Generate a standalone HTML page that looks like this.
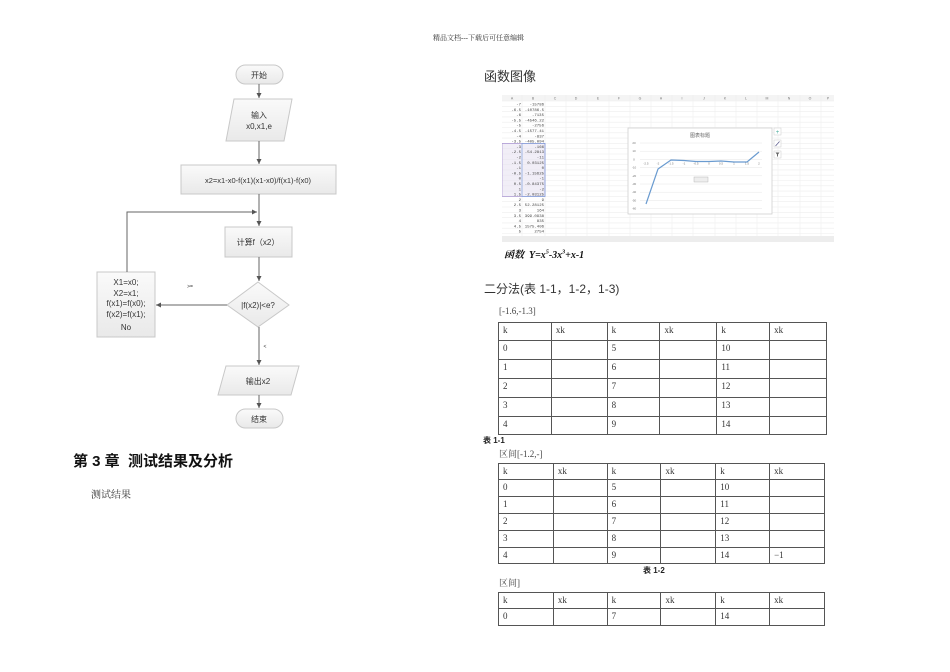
<!DOCTYPE html>
<html><head><meta charset="utf-8">
<style>
html,body{margin:0;padding:0;background:#fff;}
body{width:950px;height:672px;position:relative;overflow:hidden;font-family:"Liberation Sans","Noto Sans CJK SC",sans-serif;}
.a{position:absolute;white-space:nowrap;}
.serif{font-family:"Liberation Serif","Noto Serif CJK SC",serif;}
table{position:absolute;border-collapse:collapse;font-family:"Liberation Serif","Noto Serif CJK SC",serif;font-size:9px;color:#333;}
td{border:1px solid #555;padding:0 0 0 4px;vertical-align:top;line-height:14px;}
</style></head><body>

<div class="a serif" style="left:433px;top:33px;font-size:7px;color:#333;">精品文档---下载后可任意编辑</div>

<svg class="a" style="left:0;top:0" width="470" height="440" viewBox="0 0 470 440">
<defs>
<marker id="ar" markerWidth="6" markerHeight="6" refX="5" refY="3" orient="auto"><path d="M0,0.5 L5,3 L0,5.5z" fill="#555"/></marker>
<linearGradient id="g" x1="0" y1="0" x2="0" y2="1"><stop offset="0" stop-color="#fafafa"/><stop offset="1" stop-color="#e9e9e9"/></linearGradient>
</defs>
<g stroke="#c8c8c8" stroke-width="1" fill="url(#g)">
<rect x="236" y="65" width="47" height="19" rx="9.5"/>
<polygon points="234,99 292,99 284,141 226,141"/>
<rect x="181" y="165" width="155" height="29"/>
<rect x="225" y="227" width="67" height="30"/>
<polygon points="258,282 289,305 258,327 227,305"/>
<rect x="97" y="272" width="58" height="65"/>
<polygon points="226,366 299,366 291,395 218,395"/>
<rect x="236" y="409" width="47" height="19" rx="9.5"/>
</g>
<g stroke="#666" stroke-width="1" fill="none" marker-end="url(#ar)">
<line x1="259" y1="84" x2="259" y2="98"/>
<line x1="259" y1="141" x2="259" y2="164"/>
<line x1="259" y1="194" x2="259" y2="226"/>
<polyline points="127,272 127,212 257,212"/>
<line x1="259" y1="257" x2="259" y2="281"/>
<line x1="227" y1="305" x2="156" y2="305"/>
<line x1="259" y1="327" x2="259" y2="365"/>
<line x1="259" y1="395" x2="259" y2="408"/>
</g>
<g font-family="Liberation Sans,Noto Sans CJK SC,sans-serif" font-size="8" fill="#333" text-anchor="middle">
<text x="259" y="78">开始</text>
<text x="259" y="118">输入</text>
<text x="259" y="129">x0,x1,e</text>
<text x="258" y="183" font-size="7.5">x2=x1-x0-f(x1)(x1-x0)/f(x1)-f(x0)</text>
<text x="258" y="245">计算f（x2）</text>
<text x="258" y="308">|f(x2)|&lt;e?</text>
<text x="126" y="285">X1=x0;</text>
<text x="126" y="296">X2=x1;</text>
<text x="126" y="306">f(x1)=f(x0);</text>
<text x="126" y="317">f(x2)=f(x1);</text>
<text x="126" y="330">No</text>
<text x="258" y="384">输出x2</text>
<text x="259" y="422">结束</text>
<text x="190" y="288" font-size="5">&gt;=</text>
<text x="265" y="348" font-size="5">&lt;</text>
</g>
</svg>

<div class="a" style="left:73px;top:450px;font-size:15px;font-weight:bold;color:#111;">第 3 章&nbsp; 测试结果及分析</div>
<div class="a serif" style="left:91px;top:486px;font-size:10px;color:#333;">测试结果</div>

<div class="a" style="left:484px;top:66px;font-size:13px;color:#333;">函数图像</div>

<svg class="a" style="left:502px;top:95px" width="332" height="147" viewBox="0 0 332 147">
<rect x="0" y="0" width="332" height="147" fill="#fff"/>
<rect x="0" y="0" width="332" height="6" fill="#f4f4f4"/>
<rect x="0" y="141" width="332" height="6" fill="#ededed"/>
<g font-family="Liberation Sans,sans-serif" font-size="3.5" fill="#777" text-anchor="middle">
<text x="10" y="4.5">A</text><text x="31" y="4.5">B</text><text x="53" y="4.5">C</text><text x="74" y="4.5">D</text><text x="96" y="4.5">E</text><text x="117" y="4.5">F</text><text x="138" y="4.5">G</text><text x="159" y="4.5">H</text><text x="180" y="4.5">I</text><text x="202" y="4.5">J</text><text x="223" y="4.5">K</text><text x="244" y="4.5">L</text><text x="265" y="4.5">M</text><text x="287" y="4.5">N</text><text x="308" y="4.5">O</text><text x="326" y="4.5">P</text>
</g>
<g stroke="#eeeeee" stroke-width="0.6">
<line x1="20" y1="0" x2="20" y2="141"/><line x1="43" y1="0" x2="43" y2="141"/>
<line x1="64" y1="0" x2="64" y2="141"/><line x1="85" y1="0" x2="85" y2="141"/><line x1="107" y1="0" x2="107" y2="141"/><line x1="128" y1="0" x2="128" y2="141"/><line x1="149" y1="0" x2="149" y2="141"/><line x1="170" y1="0" x2="170" y2="141"/><line x1="191" y1="0" x2="191" y2="141"/><line x1="213" y1="0" x2="213" y2="141"/><line x1="234" y1="0" x2="234" y2="141"/><line x1="255" y1="0" x2="255" y2="141"/><line x1="276" y1="0" x2="276" y2="141"/><line x1="298" y1="0" x2="298" y2="141"/><line x1="319" y1="0" x2="319" y2="141"/>
<line x1="0" y1="6" x2="332" y2="6"/><line x1="0" y1="11.3" x2="332" y2="11.3"/><line x1="0" y1="16.6" x2="332" y2="16.6"/><line x1="0" y1="21.9" x2="332" y2="21.9"/><line x1="0" y1="27.2" x2="332" y2="27.2"/><line x1="0" y1="32.5" x2="332" y2="32.5"/><line x1="0" y1="37.8" x2="332" y2="37.8"/><line x1="0" y1="43.1" x2="332" y2="43.1"/><line x1="0" y1="48.4" x2="332" y2="48.4"/><line x1="0" y1="53.7" x2="332" y2="53.7"/><line x1="0" y1="59" x2="332" y2="59"/><line x1="0" y1="64.3" x2="332" y2="64.3"/><line x1="0" y1="69.6" x2="332" y2="69.6"/><line x1="0" y1="74.9" x2="332" y2="74.9"/><line x1="0" y1="80.2" x2="332" y2="80.2"/><line x1="0" y1="85.5" x2="332" y2="85.5"/><line x1="0" y1="90.8" x2="332" y2="90.8"/><line x1="0" y1="96.1" x2="332" y2="96.1"/><line x1="0" y1="101.4" x2="332" y2="101.4"/><line x1="0" y1="106.7" x2="332" y2="106.7"/><line x1="0" y1="112" x2="332" y2="112"/><line x1="0" y1="117.3" x2="332" y2="117.3"/><line x1="0" y1="122.6" x2="332" y2="122.6"/><line x1="0" y1="127.9" x2="332" y2="127.9"/><line x1="0" y1="133.2" x2="332" y2="133.2"/><line x1="0" y1="138.5" x2="332" y2="138.5"/>
</g>
<rect x="0" y="48.4" width="43" height="53" fill="#e8e2f2" fill-opacity="0.6" stroke="#a58fcf" stroke-width="0.7"/>
<rect x="20" y="48.4" width="23" height="53" fill="none" stroke="#7f9fdc" stroke-width="0.7"/>
<g font-family="Liberation Mono,monospace" font-size="4" fill="#444" text-anchor="end">
<text x="19" y="10.5">-7</text><text x="42" y="10.5">-15786</text>
<text x="19" y="15.8">-6.5</text><text x="42" y="15.8">-10786.5</text>
<text x="19" y="21.1">-6</text><text x="42" y="21.1">-7135</text>
<text x="19" y="26.4">-5.5</text><text x="42" y="26.4">-4546.22</text>
<text x="19" y="31.7">-5</text><text x="42" y="31.7">-2756</text>
<text x="19" y="37">-4.5</text><text x="42" y="37">-1577.41</text>
<text x="19" y="42.3">-4</text><text x="42" y="42.3">-837</text>
<text x="19" y="47.6">-3.5</text><text x="42" y="47.6">-405.094</text>
<text x="19" y="52.9">-3</text><text x="42" y="52.9">-166</text>
<text x="19" y="58.2">-2.5</text><text x="42" y="58.2">-54.2813</text>
<text x="19" y="63.5">-2</text><text x="42" y="63.5">-11</text>
<text x="19" y="68.8">-1.5</text><text x="42" y="68.8">0.03125</text>
<text x="19" y="74.1">-1</text><text x="42" y="74.1">0</text>
<text x="19" y="79.4">-0.5</text><text x="42" y="79.4">-1.15625</text>
<text x="19" y="84.7">0</text><text x="42" y="84.7">-1</text>
<text x="19" y="90">0.5</text><text x="42" y="90">-0.84375</text>
<text x="19" y="95.3">1</text><text x="42" y="95.3">-2</text>
<text x="19" y="100.6">1.5</text><text x="42" y="100.6">-2.03125</text>
<text x="19" y="105.9">2</text><text x="42" y="105.9">9</text>
<text x="19" y="111.2">2.5</text><text x="42" y="111.2">52.28125</text>
<text x="19" y="116.5">3</text><text x="42" y="116.5">164</text>
<text x="19" y="121.8">3.5</text><text x="42" y="121.8">399.0938</text>
<text x="19" y="127.1">4</text><text x="42" y="127.1">835</text>
<text x="19" y="132.4">4.5</text><text x="42" y="132.4">1575.406</text>
<text x="19" y="137.7">5</text><text x="42" y="137.7">2754</text>
</g>
<rect x="126" y="33" width="144" height="86" fill="#fff" stroke="#d0d0d0" stroke-width="0.8"/>
<text x="198" y="42" font-size="5" fill="#666" text-anchor="middle" font-family="Noto Sans CJK SC,sans-serif">图表标题</text>
<g stroke="#e6e6e6" stroke-width="0.5">
<line x1="138" y1="48" x2="260" y2="48"/><line x1="138" y1="56.2" x2="260" y2="56.2"/><line x1="138" y1="64.4" x2="260" y2="64.4"/><line x1="138" y1="72.6" x2="260" y2="72.6"/><line x1="138" y1="80.8" x2="260" y2="80.8"/><line x1="138" y1="89" x2="260" y2="89"/><line x1="138" y1="97.2" x2="260" y2="97.2"/><line x1="138" y1="105.4" x2="260" y2="105.4"/><line x1="138" y1="113.6" x2="260" y2="113.6"/>
</g>
<g font-family="Liberation Sans,sans-serif" font-size="3" fill="#777" text-anchor="middle">
<text x="132" y="49">20</text><text x="132" y="57.2">10</text><text x="132" y="65.4">0</text><text x="132" y="73.6">-10</text><text x="132" y="81.8">-20</text><text x="132" y="90">-30</text><text x="132" y="98.2">-40</text><text x="132" y="106.4">-50</text><text x="132" y="114.6">-60</text>
<text x="144" y="69.5">-2.5</text><text x="156" y="69.5">-2</text><text x="169" y="69.5">-1.5</text><text x="182" y="69.5">-1</text><text x="194" y="69.5">-0.5</text><text x="207" y="69.5">0</text><text x="219" y="69.5">0.5</text><text x="232" y="69.5">1</text><text x="245" y="69.5">1.5</text><text x="257" y="69.5">2</text>
</g>
<polyline points="144,109 156,74 169,65 182,65.5 194,66.5 207,66.5 219,66 232,67 245,67 257,57" fill="none" stroke="#6a9bd0" stroke-width="1.2"/>
<rect x="192" y="82" width="14" height="5" fill="#eee" stroke="#aaa" stroke-width="0.4"/>
<rect x="272" y="33" width="7" height="7" fill="#fff" stroke="#ccc" stroke-width="0.5"/>
<text x="275.5" y="39" font-size="6" fill="#4a9" text-anchor="middle">+</text>
<rect x="272" y="45" width="7" height="7" fill="#fff" stroke="#ccc" stroke-width="0.5"/>
<line x1="273.5" y1="51" x2="277.5" y2="46.5" stroke="#558" stroke-width="0.7"/>
<rect x="272" y="56" width="7" height="7" fill="#fff" stroke="#ccc" stroke-width="0.5"/>
<path d="M273.5,57.5 L277.5,57.5 L276,59.5 L276,61.5 L275,61.5 L275,59.5z" fill="#666"/>
</svg>

<div class="a serif" style="left:504px;top:246px;font-size:10px;font-weight:bold;font-style:italic;color:#111;">函数&nbsp; Y=x<sup style="font-size:6px">5</sup>-3x<sup style="font-size:6px">3</sup>+x-1</div>
<div class="a" style="left:484px;top:280px;font-size:12px;color:#333;">二分法(表 1-1，1-2，1-3)</div>

<div class="a serif" style="left:499px;top:306px;font-size:9px;color:#444;">[-1.6,-1.3]</div>
<table style="left:498px;top:322px;width:329px;">
<colgroup><col style="width:53px"><col style="width:56px"><col style="width:53px"><col style="width:57px"><col style="width:53px"><col style="width:57px"></colgroup>
<tr style="height:18px"><td>k</td><td>xk</td><td>k</td><td>xk</td><td>k</td><td>xk</td></tr>
<tr style="height:19px"><td>0</td><td></td><td>5</td><td></td><td>10</td><td></td></tr>
<tr style="height:19px"><td>1</td><td></td><td>6</td><td></td><td>11</td><td></td></tr>
<tr style="height:19px"><td>2</td><td></td><td>7</td><td></td><td>12</td><td></td></tr>
<tr style="height:19px"><td>3</td><td></td><td>8</td><td></td><td>13</td><td></td></tr>
<tr style="height:18px"><td>4</td><td></td><td>9</td><td></td><td>14</td><td></td></tr>
</table>
<div class="a" style="left:483px;top:435px;font-size:8px;font-weight:bold;color:#222;">表 1-1</div>
<div class="a serif" style="left:499px;top:447px;font-size:9px;color:#444;">区间[-1.2,-]</div>
<table style="left:498px;top:463px;width:327px;">
<colgroup><col style="width:55px"><col style="width:54px"><col style="width:54px"><col style="width:55px"><col style="width:54px"><col style="width:55px"></colgroup>
<tr style="height:16px"><td>k</td><td>xk</td><td>k</td><td>xk</td><td>k</td><td>xk</td></tr>
<tr style="height:17px"><td>0</td><td></td><td>5</td><td></td><td>10</td><td></td></tr>
<tr style="height:17px"><td>1</td><td></td><td>6</td><td></td><td>11</td><td></td></tr>
<tr style="height:17px"><td>2</td><td></td><td>7</td><td></td><td>12</td><td></td></tr>
<tr style="height:17px"><td>3</td><td></td><td>8</td><td></td><td>13</td><td></td></tr>
<tr style="height:16px"><td>4</td><td></td><td>9</td><td></td><td>14</td><td>−1</td></tr>
</table>
<div class="a" style="left:643px;top:565px;font-size:8px;font-weight:bold;color:#222;">表 1-2</div>
<div class="a serif" style="left:499px;top:576px;font-size:9px;color:#444;">区间]</div>
<table style="left:498px;top:592px;width:327px;">
<colgroup><col style="width:55px"><col style="width:54px"><col style="width:54px"><col style="width:55px"><col style="width:54px"><col style="width:55px"></colgroup>
<tr style="height:16px"><td>k</td><td>xk</td><td>k</td><td>xk</td><td>k</td><td>xk</td></tr>
<tr style="height:17px"><td>0</td><td></td><td>7</td><td></td><td>14</td><td></td></tr>
</table>
</body></html>
